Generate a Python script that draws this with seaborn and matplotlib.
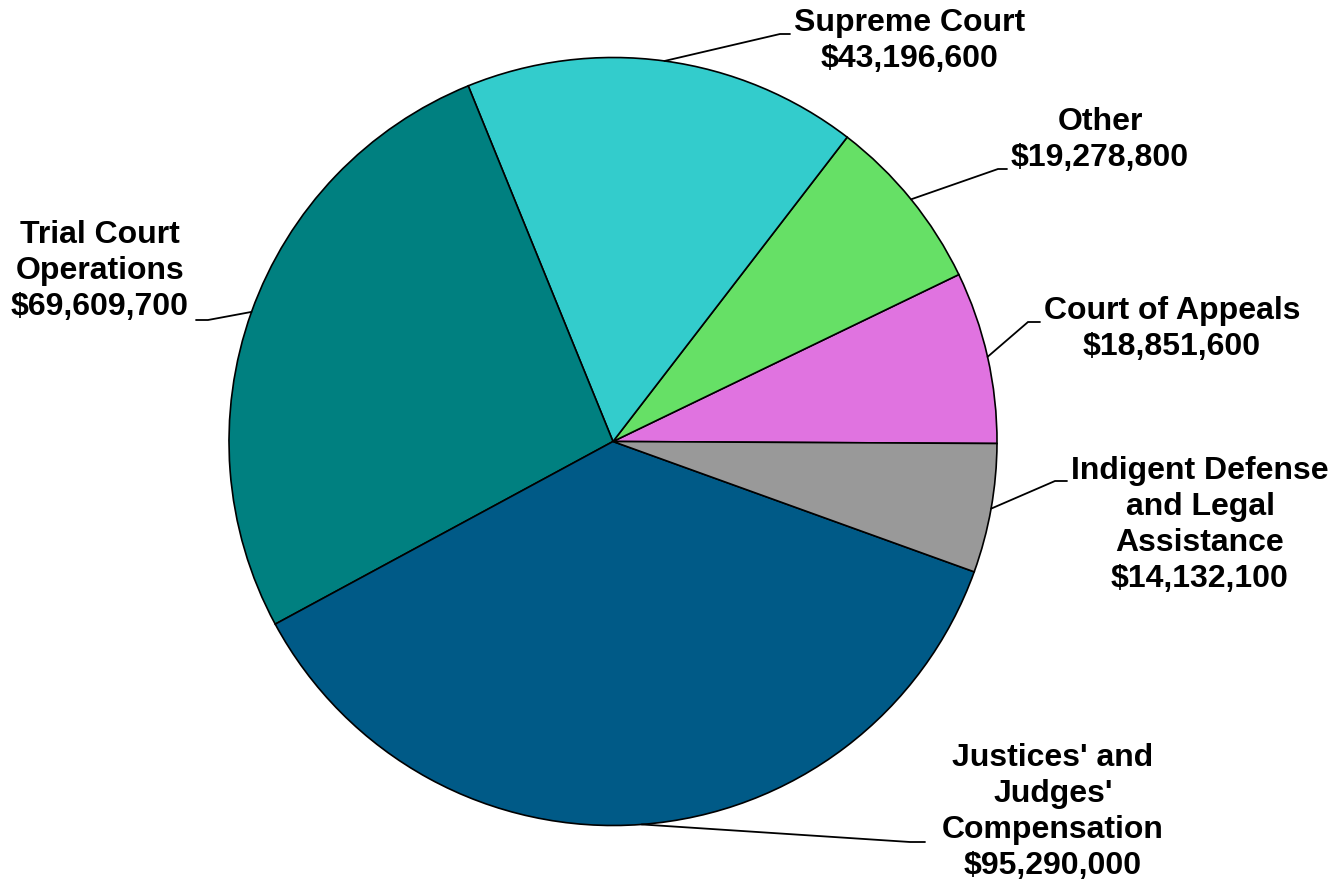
import numpy as np
import matplotlib
matplotlib.use("Agg")
import matplotlib.pyplot as plt
import seaborn as sns

# ---- data ----
categories = ["Court of Appeals", "Other", "Supreme Court", "Trial Court\nOperations",
              "Justices' and\nJudges'\nCompensation", "Indigent Defense\nand Legal\nAssistance"]
values = [18851600, 19278800, 43196600, 69609700, 95290000, 14132100]
colors = ["#E073E0", "#66E066", "#33CCCC", "#008080", "#005A87", "#999999"]

# ---- layout (pixel coords, y from top) ----
label_xy = [(1172, 329), (1100, 140), (910, 41), (100, 271), (1053, 812), (1200, 525)]
elbow_xy = [(1028, 322), (998, 169), (780, 34), (208, 320), (910, 842), (1055, 481)]
end_xy = [(1040, 322), (1007, 169), (790, 34), (196, 320), (925, 842), (1067, 481)]

W, H = 1338, 884
sns.set_theme(style="white")
plt.rcParams['font.family'] = ['Liberation Sans', 'DejaVu Sans']

fig = plt.figure(figsize=(W / 100, H / 100), dpi=100)
ax = fig.add_axes([0, 0, 1, 1])

cx, cy, R = 613, H - 441.5, 384
start = -0.3
wedges, _ = ax.pie(values, colors=colors, startangle=start, counterclock=True,
                   center=(cx, cy), radius=R, frame=True,
                   wedgeprops=dict(edgecolor='black', linewidth=1.2))
ax.set_xlim(0, W)
ax.set_ylim(0, H)
ax.set_aspect('equal')
ax.axis('off')

total = sum(values)
ang = start
for i, v in enumerate(values):
    span = v / total * 360
    mid = np.deg2rad(ang + span / 2)
    ang += span
    x0, y0 = cx + R * np.cos(mid), cy + R * np.sin(mid)
    ex, ey = elbow_xy[i]
    fx, fy = end_xy[i]
    ax.plot([x0, ex, fx], [y0, H - ey, H - fy], color='black', lw=1.3,
            solid_joinstyle='miter')
    lx, ly = label_xy[i]
    txt = categories[i] + "\n" + "${:,}".format(v)
    ax.text(lx, H - ly, txt, ha='center', va='center', fontsize=23,
            fontweight='bold', linespacing=1.25, color='black')

fig.savefig("out.png", dpi=100)
